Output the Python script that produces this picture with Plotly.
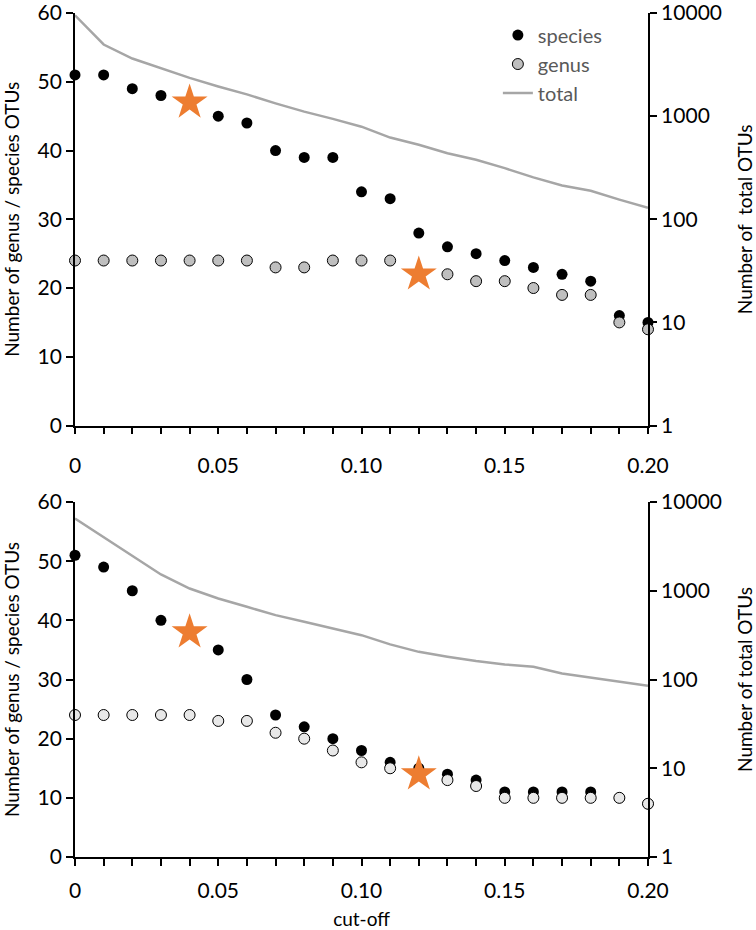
import plotly.graph_objects as go

# cut-off values (shared by both panels)
cutoff = [0.00, 0.01, 0.02, 0.03, 0.04, 0.05, 0.06, 0.07, 0.08, 0.09, 0.10,
          0.11, 0.12, 0.13, 0.14, 0.15, 0.16, 0.17, 0.18, 0.19, 0.20]

# top panel
top_species = [51, 51, 49, 48, 47, 45, 44, 40, 39, 39, 34, 33, 28, 26, 25, 24, 23, 22, 21, 16, 15]
top_genus = [24, 24, 24, 24, 24, 24, 24, 23, 23, 24, 24, 24, 22, 22, 21, 21, 20, 19, 19, 15, 14]
top_total = [9500, 4950, 3620, 2900, 2350, 1940, 1625, 1330, 1105, 940, 790,
             620, 527, 437, 377, 313, 255, 213, 189, 155, 129]
top_star_x = [0.04, 0.12]
top_star_y = [47, 22]

# bottom panel
bot_species = [51, 49, 45, 40, 38, 35, 30, 24, 22, 20, 18, 16, 15, 14, 13, 11, 11, 11, 11, 10, 9]
bot_genus = [24, 24, 24, 24, 24, 23, 23, 21, 20, 18, 16, 15, 14, 13, 12, 10, 10, 10, 10, 10, 9]
bot_total = [6500, 4040, 2510, 1525, 1060, 818, 660, 531, 447, 376, 316,
             249, 205, 181, 162, 148, 139, 117, 105, 96, 85]
bot_star_x = [0.04, 0.12]
bot_star_y = [38, 14]

x_tickvals = [0, 0.05, 0.10, 0.15, 0.20]
x_ticktext = ["0", "0.05", "0.10", "0.15", "0.20"]
log_tickvals = [1, 10, 100, 1000, 10000]
log_ticktext = ["1", "10", "100", "1000", "10000"]

FONT = "Lato, 'Open Sans', sans-serif"
ORANGE = "#ED7D31"
LINE_GREY = "#A6A6A6"
TICK_SIZE = 21
TITLE_SIZE = 19

fig = go.Figure()

# ---- top panel ----
fig.add_trace(go.Scatter(x=cutoff, y=top_total, mode="lines", name="total",
                         line=dict(color=LINE_GREY, width=2.5),
                         xaxis="x", yaxis="y2", legendrank=3, cliponaxis=False))
fig.add_trace(go.Scatter(x=cutoff, y=top_species, mode="markers", name="species",
                         marker=dict(color="black", size=11),
                         xaxis="x", yaxis="y", legendrank=1, cliponaxis=False))
fig.add_trace(go.Scatter(x=cutoff, y=top_genus, mode="markers", name="genus",
                         marker=dict(color="#BFBFBF", size=11, line=dict(color="black", width=1)),
                         xaxis="x", yaxis="y", legendrank=2, cliponaxis=False))
fig.add_trace(go.Scatter(x=top_star_x, y=top_star_y, mode="markers", showlegend=False,
                         marker=dict(symbol="star", color=ORANGE, size=27, line=dict(width=0)),
                         xaxis="x", yaxis="y", cliponaxis=False))

# ---- bottom panel ----
fig.add_trace(go.Scatter(x=cutoff, y=bot_total, mode="lines", showlegend=False,
                         line=dict(color=LINE_GREY, width=2.5),
                         xaxis="x2", yaxis="y4", cliponaxis=False))
fig.add_trace(go.Scatter(x=cutoff, y=bot_species, mode="markers", showlegend=False,
                         marker=dict(color="black", size=11),
                         xaxis="x2", yaxis="y3", cliponaxis=False))
fig.add_trace(go.Scatter(x=cutoff, y=bot_genus, mode="markers", showlegend=False,
                         marker=dict(color="#E8E8E8", size=11, line=dict(color="black", width=1)),
                         xaxis="x2", yaxis="y3", cliponaxis=False))
fig.add_trace(go.Scatter(x=bot_star_x, y=bot_star_y, mode="markers", showlegend=False,
                         marker=dict(symbol="star", color=ORANGE, size=27, line=dict(width=0)),
                         xaxis="x2", yaxis="y3", cliponaxis=False))

common_x = dict(range=[0, 0.2], tickmode="array", tickvals=x_tickvals, ticktext=x_ticktext,
                ticks="outside", ticklen=7, tickwidth=1.5, tickcolor="black",
                minor=dict(dtick=0.01, ticks="outside", ticklen=7, tickwidth=1.5, tickcolor="black"),
                showline=True, linecolor="black", linewidth=1.8, showgrid=False, zeroline=False,
                tickfont=dict(size=TICK_SIZE, color="black"), automargin=False,
                ticklabeloverflow="allow")
common_left = dict(range=[0, 60], dtick=10, ticks="outside", ticklen=7, tickwidth=1.5,
                   tickcolor="black", showline=True, linecolor="black", linewidth=1.8,
                   showgrid=False, zeroline=False, tickfont=dict(size=TICK_SIZE, color="black"),
                   automargin=False, ticklabeloverflow="allow",
                   title=dict(text="Number of genus / species OTUs",
                              font=dict(size=TITLE_SIZE, color="black"), standoff=14))
common_right = dict(type="log", range=[0, 4], tickmode="array", tickvals=log_tickvals,
                    ticktext=log_ticktext, side="right", ticks="outside", ticklen=7, tickwidth=1.5,
                    tickcolor="black", showline=True, linecolor="black", linewidth=1.8,
                    showgrid=False, zeroline=False, tickfont=dict(size=TICK_SIZE, color="black"),
                    automargin=False, ticklabeloverflow="allow")

fig.update_layout(
    width=756, height=930,
    margin=dict(l=75, r=108, t=13, b=73),
    paper_bgcolor="white", plot_bgcolor="white",
    font=dict(family=FONT, color="black"),
    xaxis=dict(domain=[0, 1], anchor="y", ticklabelstandoff=13, **common_x),
    yaxis=dict(domain=[0.5112, 1], anchor="x", **common_left),
    yaxis2=dict(overlaying="y", anchor="x",
                title=dict(text="Number of\u00a0 total OTUs",
                           font=dict(size=TITLE_SIZE, color="black"), standoff=28),
                **common_right),
    xaxis2=dict(domain=[0, 1], anchor="y3", ticklabelstandoff=7,
                title=dict(text="cut-off", font=dict(size=TITLE_SIZE, color="black"), standoff=16),
                **common_x),
    yaxis3=dict(domain=[0, 0.4206], anchor="x2", **common_left),
    yaxis4=dict(overlaying="y3", anchor="x2",
                title=dict(text="Number of total OTUs",
                           font=dict(size=TITLE_SIZE, color="black"), standoff=28),
                **common_right),
    legend=dict(x=0.738, y=0.997, xanchor="left", yanchor="top",
                bgcolor="rgba(0,0,0,0)", font=dict(size=20, color="#595959"),
                tracegroupgap=0, itemwidth=30),
    showlegend=True,
)

# drop the page's default body margin so the figure sits at the window's corner
fig.write_html("out.html", config={"displayModeBar": False},
               post_script="document.body.style.margin='0';")
